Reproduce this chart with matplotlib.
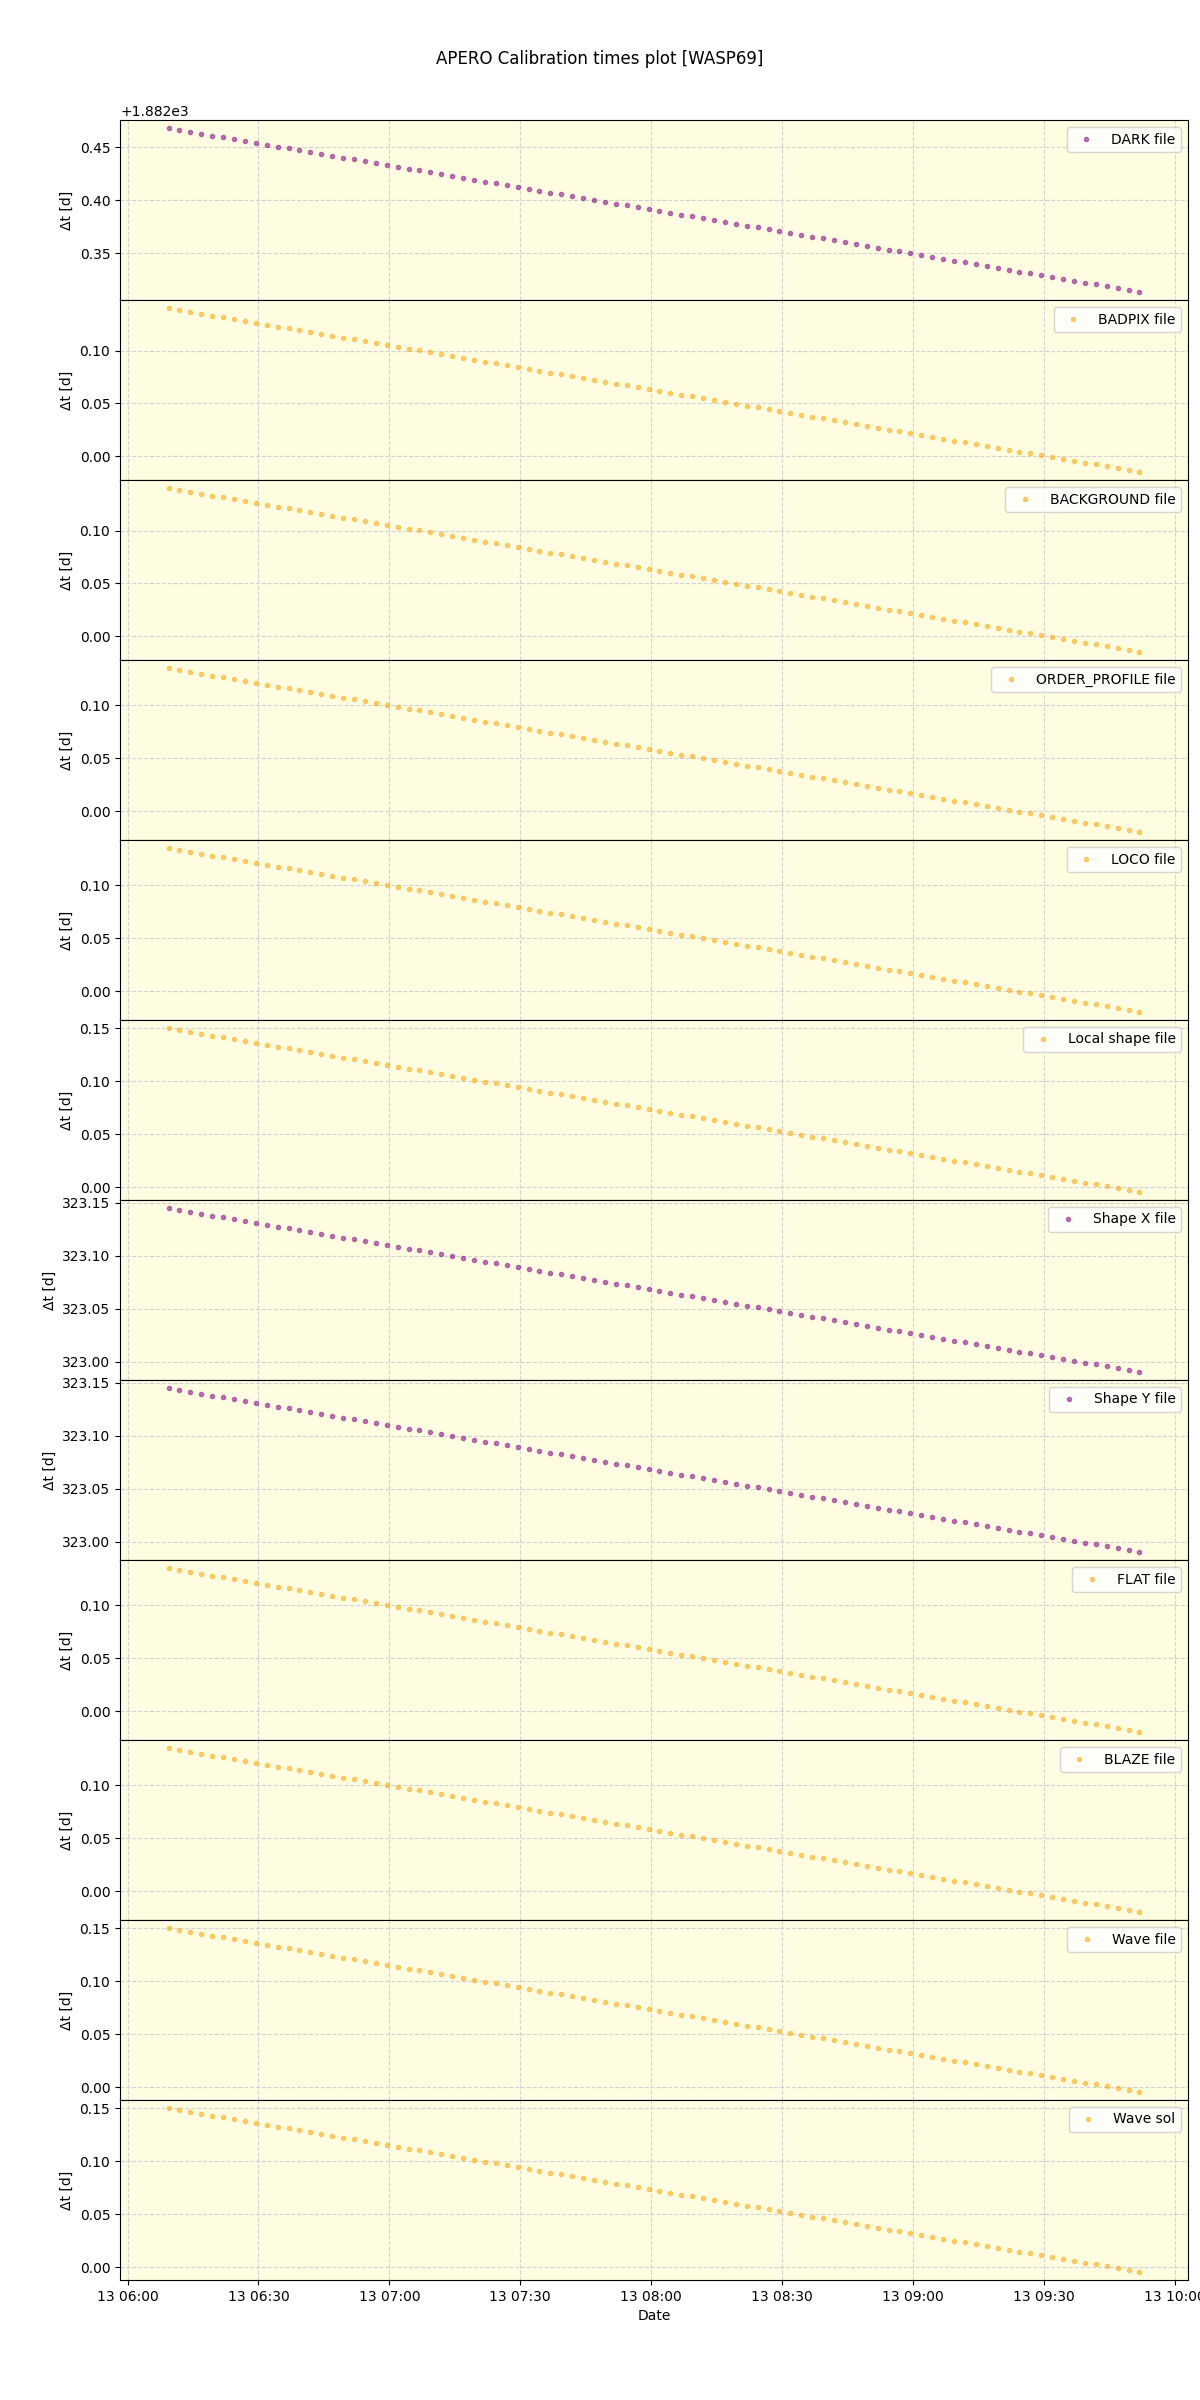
import datetime as dt
import numpy as np
import matplotlib
matplotlib.use("Agg")
from matplotlib import pyplot as plt

# observation times, minutes after 06:00 on the 13th
obs_minutes = [9.4, 11.9, 14.4, 16.9, 19.4, 21.9, 24.4, 26.9, 29.4, 31.9,
               34.4, 36.9, 39.4, 41.9, 44.4, 46.9, 49.4, 51.9, 54.4, 56.9,
               59.4, 61.9, 64.4, 66.9, 69.4, 71.9, 74.4, 76.9, 79.4, 81.9,
               84.4, 86.9, 89.4, 91.9, 94.4, 96.9, 99.4, 101.9, 104.4, 106.9,
               109.4, 111.9, 114.4, 116.9, 119.4, 121.9, 124.4, 126.9, 129.4, 131.9,
               134.4, 136.9, 139.4, 141.9, 144.4, 146.9, 149.4, 151.9, 154.4, 156.9,
               159.4, 161.9, 164.4, 166.9, 169.4, 171.9, 174.4, 176.9, 179.4, 181.9,
               184.4, 186.9, 189.4, 191.9, 194.4, 196.9, 199.4, 201.9, 204.4, 206.9,
               209.4, 211.9, 214.4, 216.9, 219.4, 221.9, 224.4, 226.9, 229.4, 231.9]

# calibration files and the delta-t [d] at the first observation
labels = ["DARK file", "BADPIX file", "BACKGROUND file", "ORDER_PROFILE file",
          "LOCO file", "Local shape file", "Shape X file", "Shape Y file",
          "FLAT file", "BLAZE file", "Wave file", "Wave sol"]
dt_first = [1882.468, 0.140, 0.140, 0.135, 0.135, 0.150,
            323.145, 323.145, 0.135, 0.135, 0.150, 0.150]
colors = ["purple", "orange", "orange", "orange", "orange", "orange",
          "purple", "purple", "orange", "orange", "orange", "orange"]

t0 = dt.datetime(2019, 8, 13, 6, 0)
times = [t0 + dt.timedelta(minutes=m) for m in obs_minutes]
elapsed = (np.array(obs_minutes) - obs_minutes[0]) / 1440.0

fig, axes = plt.subplots(len(labels), 1, figsize=(12, 24), sharex=True)
fig.subplots_adjust(left=0.1, right=0.99, top=0.95, bottom=0.05, hspace=0)
fig.suptitle("APERO Calibration times plot [WASP69]", y=0.979)

for ax, lab, d0, col in zip(axes, labels, dt_first, colors):
    ax.set_facecolor("#fefce1")
    ax.plot(times, d0 - elapsed, "o", ms=3, color=col, alpha=0.5, label=lab)
    ax.grid(True, linestyle="--", color="lightgray")
    ax.set_axisbelow(True)
    ax.set_ylabel("Δt [d]")
    ax.legend(loc="upper right")

axes[-1].set_xlabel("Date")
fig.savefig("out.png", dpi=100)
